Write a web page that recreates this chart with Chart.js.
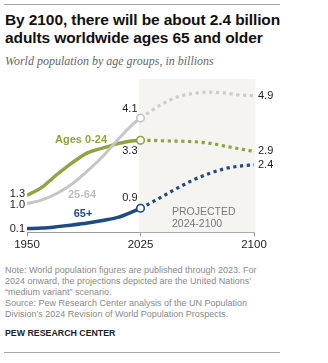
<!DOCTYPE html>
<html>
<head>
<meta charset="utf-8">
<script src="https://cdn.jsdelivr.net/npm/chart.js@4/dist/chart.umd.min.js"></script>
<style>
  body { margin: 0; background: #fff; width: 328px; height: 363px; position: relative; overflow: hidden; font-family: "Liberation Sans", Arial, sans-serif; }
  .rule { position: absolute; left: 4px; width: 276px; height: 1px; background: #a8a8a8; }
  #title { position: absolute; left: 5px; top: 11px; width: 300px; font-weight: bold; font-size: 15.5px; line-height: 18px; color: #111; letter-spacing: -0.1px; }
  #subtitle { position: absolute; left: 5px; top: 54px; font-family: "Liberation Serif", Georgia, serif; font-style: italic; font-size: 12px; color: #666; }
  #wrap { position: absolute; left: 0; top: 70px; width: 328px; height: 184px; }
  #notes { position: absolute; left: 5px; top: 265px; width: 300px; font-size: 9px; line-height: 11px; color: #8a8a8a; white-space: nowrap; }
  #brand { position: absolute; left: 5px; top: 328px; font-size: 8.8px; font-weight: bold; color: #222; }
</style>
</head>
<body>
<div class="rule" style="top:4px"></div>
<div id="title">By 2100, there will be about 2.4 billion adults worldwide ages 65 and older</div>
<div id="subtitle">World population by age groups, in billions</div>
<div id="wrap"><canvas id="chart"></canvas></div>
<div id="notes">Note: World population figures are published through 2023. For<br>2024 onward, the projections depicted are the United Nations’<br>“medium variant” scenario.<br>Source: Pew Research Center analysis of the UN Population<br>Division’s 2024 Revision of World Population Prospects.</div>
<div id="brand">PEW RESEARCH CENTER</div>
<div class="rule" style="top:352px"></div>
<script>
// estimates, billions
var yearsPast = [1950, 1960, 1970, 1980, 1990, 2000, 2010, 2020, 2025];
var youngPast = [1.32, 1.62, 2.08, 2.5, 2.85, 3.02, 3.18, 3.28, 3.3];
var workingPast = [1.03, 1.16, 1.4, 1.74, 2.2, 2.72, 3.32, 3.88, 4.1];
var olderPast = [0.13, 0.15, 0.2, 0.26, 0.33, 0.42, 0.53, 0.74, 0.86];

var yearsProj = [2025, 2030, 2040, 2050, 2060, 2070, 2080, 2090, 2100];
var youngProj = [3.3, 3.3, 3.28, 3.27, 3.25, 3.2, 3.1, 3.0, 2.9];
var workingProj = [4.1, 4.28, 4.62, 4.87, 4.98, 5.03, 5.0, 4.93, 4.9];
var olderProj = [0.86, 1.0, 1.3, 1.6, 1.88, 2.1, 2.27, 2.37, 2.42];

var tickYears = [1950, 2025, 2100];
var projStart = 2024, projEnd = 2101;

var GREEN = '#8fa443', GREY = '#c6c6c6', GREY_DOT = '#cdcdcd', BLUE = '#1f4a85';

function pts(xs, ys) {
  return xs.map(function (x, i) { return { x: x, y: ys[i] }; });
}

function solid(data, color, width) {
  return {
    data: data, borderColor: color, borderWidth: width, cubicInterpolationMode: 'monotone',
    pointRadius: 0, fill: false
  };
}

function dotted(data, color) {
  return {
    data: data, borderColor: color, borderWidth: 3.2, borderDash: [3.2, 3.6], borderCapStyle: 'butt',
    cubicInterpolationMode: 'monotone', pointRadius: 0, fill: false
  };
}

// shaded projection band behind the lines
var bandPlugin = {
  id: 'band',
  beforeDatasetsDraw: function (chart) {
    var c = chart.ctx, a = chart.chartArea, x = chart.scales.x;
    var x0 = x.getPixelForValue(projStart), x1 = x.getPixelForValue(projEnd);
    c.save();
    c.fillStyle = '#f6f4f0';
    c.fillRect(x0, a.top, x1 - x0, a.bottom - a.top);
    c.restore();
  }
};

// open circles at 2025 and the text labels
var labelPlugin = {
  id: 'labels',
  afterDatasetsDraw: function (chart) {
    var c = chart.ctx, x = chart.scales.x, y = chart.scales.y;
    var last = yearsPast.length - 1, end = yearsProj.length - 1;
    function px(v) { return x.getPixelForValue(v); }
    function py(v) { return y.getPixelForValue(v); }
    function text(s, tx, ty, color, align, bold) {
      c.font = (bold ? 'bold ' : '') + '11px "Liberation Sans", Arial, sans-serif';
      c.fillStyle = color;
      c.textAlign = align;
      c.textBaseline = 'middle';
      c.fillText(s, tx, ty);
    }
    c.save();
    [[workingPast, GREY], [youngPast, GREEN], [olderPast, BLUE]].forEach(function (s) {
      c.beginPath();
      c.arc(px(yearsPast[last]), py(s[0][last]), 3.8, 0, Math.PI * 2);
      c.fillStyle = '#fff';
      c.fill();
      c.lineWidth = 1.6;
      c.strokeStyle = s[1];
      c.stroke();
    });
    var dark = '#222';
    // start values
    text(youngPast[0].toFixed(1), 25, py(youngPast[0]) - 1, dark, 'right');
    text(workingPast[0].toFixed(1), 25, py(workingPast[0]) + 1, dark, 'right');
    text(olderPast[0].toFixed(1), 25, py(olderPast[0]), dark, 'right');
    // 2025 values
    var mx = px(yearsPast[last]) - 3;
    text(workingPast[last].toFixed(1), mx, py(workingPast[last]) - 9, dark, 'right');
    text(youngPast[last].toFixed(1), mx, py(youngPast[last]) + 11, dark, 'right');
    text(olderPast[last].toFixed(1), mx, py(olderPast[last]) - 10, dark, 'right');
    // 2100 values
    var ex = px(yearsProj[end]) + 4;
    text(workingProj[end].toFixed(1), ex, py(workingProj[end]), dark, 'left');
    text(youngProj[end].toFixed(1), ex, py(youngProj[end]), dark, 'left');
    text(olderProj[end].toFixed(1), ex, py(olderProj[end]), dark, 'left');
    // series names
    text('Ages 0-24', 107, py(3.3), GREEN, 'right', true);
    text('25-64', 82, py(1.35), '#bdbdbd', 'center', true);
    text('65+', 83, py(0.67), BLUE, 'center', true);
    // projection note
    c.font = '10.5px "Liberation Sans", Arial, sans-serif';
    c.fillStyle = '#7a7a7a';
    c.textAlign = 'left';
    c.fillText('PROJECTED', 172, py(0.72));
    c.fillText('2024-2100', 172, py(0.3));
    c.restore();
  }
};

new Chart(document.getElementById('chart'), {
  type: 'line',
  data: {
    datasets: [
      dotted(pts(yearsProj, workingProj), GREY_DOT),
      dotted(pts(yearsProj, youngProj), GREEN),
      dotted(pts(yearsProj, olderProj), BLUE),
      solid(pts(yearsPast, workingPast), GREY, 3),
      solid(pts(yearsPast, youngPast), GREEN, 3.5),
      solid(pts(yearsPast, olderPast), BLUE, 3.5)
    ]
  },
  options: {
    responsive: true,
    maintainAspectRatio: false,
    animation: false,
    layout: { padding: { left: 27, right: 74, top: 9, bottom: 0 } },
    plugins: { legend: { display: false }, tooltip: { enabled: false } },
    scales: {
      x: {
        type: 'linear', min: 1950, max: 2100,
        afterBuildTicks: function (axis) {
          axis.ticks = tickYears.map(function (v) { return { value: v }; });
        },
        grid: { drawOnChartArea: false, tickLength: 4, color: '#9a9a9a' },
        border: { color: '#9a9a9a', width: 1 },
        ticks: {
          color: '#222', padding: 2, maxRotation: 0,
          font: { family: '"Liberation Sans", Arial, sans-serif', size: 11.5 },
          callback: function (v) { return String(v); }
        }
      },
      y: { display: false, min: 0, max: 5.5 }
    }
  },
  plugins: [bandPlugin, labelPlugin]
});
</script>
</body>
</html>
